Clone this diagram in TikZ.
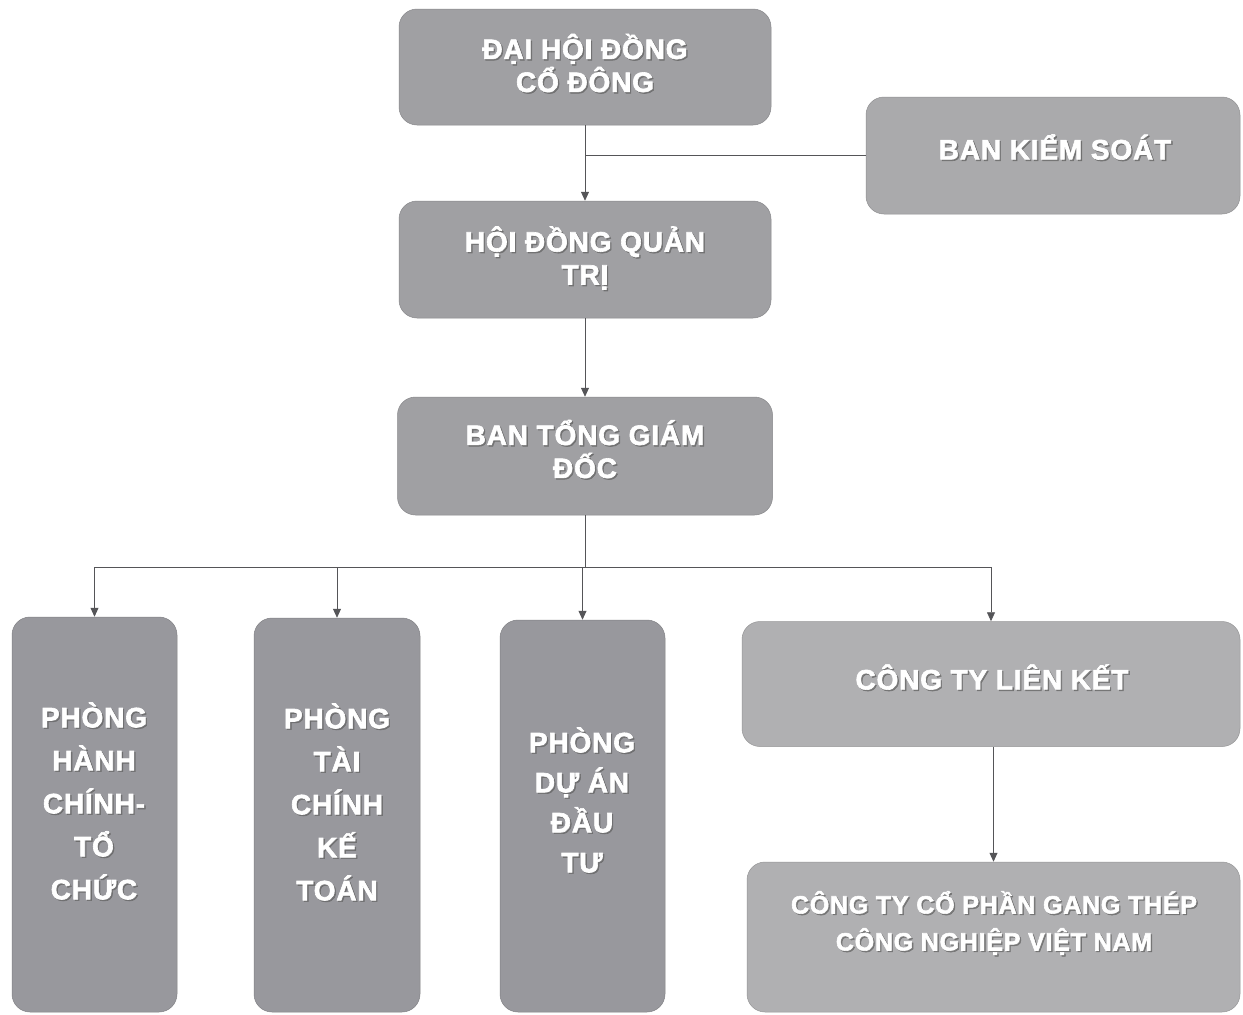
\documentclass[tikz,border=0pt]{standalone}
\usepackage{fontspec}
\setmainfont{Liberation Sans}
\newfontfamily\lblfont{Liberation Sans Bold}[LetterSpace=3, FakeBold=2.2]
\usetikzlibrary{arrows.meta}
\definecolor{boxA}{RGB}{160,160,163}
\definecolor{boxB}{RGB}{170,170,172}
\definecolor{boxC}{RGB}{152,152,157}
\definecolor{boxD}{RGB}{176,176,178}
\definecolor{linec}{RGB}{85,85,88}
\newcommand\boxtxt[4][]{%
  \node[txt,#1,text=black!60,opacity=0.7] (#2s) at ([xshift=1.4pt,yshift=-1.4pt]#3) {#4};
  \node[txt,#1] (#2) at (#3) {#4};}
\begin{document}
\begin{tikzpicture}[x=1pt,y=-1pt,
  box/.style={rounded corners=18pt, fill=#1, draw=#1!85!black, line width=0.5pt, inner sep=0pt},
  txt/.style={font=\lblfont\fontsize{28}{33}\selectfont, text=white, align=center, inner sep=0pt},
  tall/.style={font=\lblfont\fontsize{28}{43}\selectfont},
  tall4/.style={font=\lblfont\fontsize{28}{40}\selectfont},
  small/.style={font=\lblfont\fontsize{25}{37}\selectfont},
  conn/.style={draw=linec, line width=0.8pt},
  arr/.style={conn, -{Triangle[length=9pt,width=8pt]}}]
\fill[white] (0,0) rectangle (1243,1015);
\useasboundingbox (0,0) rectangle (1243,1015);
% boxes
\node[box=boxA, minimum width=372pt, minimum height=116pt] (dhd) at (585,67) {};
\node[box=boxA, minimum width=372pt, minimum height=117pt] (hdqt) at (585,259.5) {};
\node[box=boxA, minimum width=375pt, minimum height=118pt] (btgd) at (585,456) {};
\node[box=boxB, minimum width=374pt, minimum height=117pt] (bks) at (1053,155.5) {};
\node[box=boxC, minimum width=165pt, minimum height=395pt] (phc) at (94.5,814.5) {};
\node[box=boxC, minimum width=166pt, minimum height=394pt] (ptc) at (337,815) {};
\node[box=boxC, minimum width=165pt, minimum height=392pt] (pda) at (582.5,816) {};
\node[box=boxD, minimum width=498pt, minimum height=125pt] (ctlk) at (991,684) {};
\node[box=boxD, minimum width=493pt, minimum height=150pt] (ctcp) at (993.5,937) {};
% texts
\boxtxt{dhdt}{585,63}{ĐẠI HỘI ĐỒNG\\CỔ ĐÔNG}
\boxtxt{hdqtt}{585,258}{HỘI ĐỒNG QUẢN\\TRỊ}
\boxtxt{btgdt}{585,449}{BAN TỔNG GIÁM\\ĐỐC}
\boxtxt{bkst}{1055,147}{BAN KIỂM SOÁT}
\boxtxt[tall]{phct}{94,801}{PHÒNG\\HÀNH\\CHÍNH-\\TỔ\\CHỨC}
\boxtxt[tall]{ptct}{337,802}{PHÒNG\\TÀI\\CHÍNH\\KẾ\\TOÁN}
\boxtxt[tall4]{pdat}{582,800}{PHÒNG\\DỰ ÁN\\ĐẦU\\TƯ}
\boxtxt{ctlkt}{992,677}{CÔNG TY LIÊN KẾT}
\boxtxt[small]{ctcpt}{994,923}{CÔNG TY CỔ PHẦN GANG THÉP\\CÔNG NGHIỆP VIỆT NAM}
% connectors
\draw[arr] (dhd.south) -- (hdqt.north);
\draw[conn] (bks.west) -- (bks.west -| dhd.south);
\draw[arr] (hdqt.south) -- (btgd.north);
\coordinate (bus) at (585,567);
\draw[conn] (btgd.south) -- (bus);
\draw[arr] (bus) -| (phc.north);
\draw[arr] (bus) -| (ptc.north);
\draw[arr] (bus) -| (pda.north);
\draw[arr] (bus) -| (ctlk.north);
\draw[arr] (ctlk.south -| ctcp.north) -- (ctcp.north);
\end{tikzpicture}
\end{document}
